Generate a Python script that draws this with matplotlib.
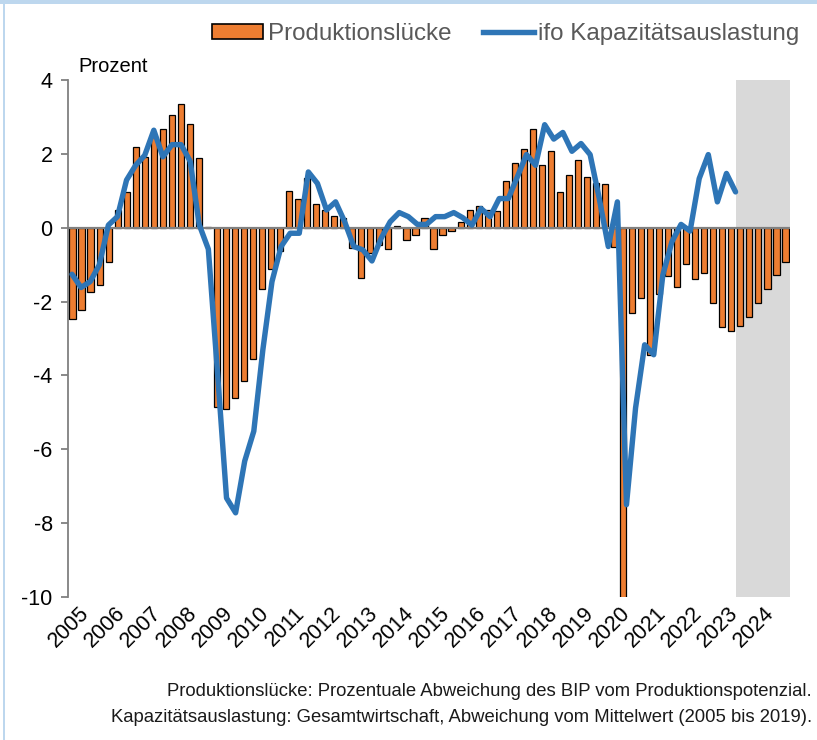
import matplotlib
matplotlib.use("Agg")
import matplotlib.pyplot as plt
from matplotlib.patches import Patch, Rectangle
from matplotlib.lines import Line2D
import numpy as np

plt.rcParams['font.family'] = ['Liberation Sans', 'DejaVu Sans']

years = [str(y) for y in range(2005, 2025)]

# Produktionslücke, quarterly 2005Q1 - 2024Q4
gap = [-2.47, -2.22, -1.73, -1.55, -0.92,
       0.49, 0.97, 2.19, 1.92, 2.45, 2.68, 3.04, 3.36, 2.82, 1.89, 0.03,
       -4.85, -4.92, -4.62, -4.15, -3.56, -1.66, -1.13, -0.62,
       0.99, 0.77, 1.35, 0.64, 0.47, 0.33, 0.26, -0.54,
       -1.36, -0.69, -0.47, -0.57, 0.05, -0.32, -0.19, 0.27,
       -0.58, -0.21, -0.10, 0.15, 0.48, 0.58, 0.48, 0.46,
       1.26, 1.74, 2.12, 2.68, 1.71, 2.08, 0.96, 1.42,
       1.84, 1.37, 1.21, 1.19, -0.51, -10.3, -2.30, -1.90,
       -3.45, -1.80, -1.30, -1.60, -0.98, -1.38, -1.22, -2.03,
       -2.68, -2.79, -2.66, -2.43, -2.04, -1.67, -1.29, -0.92]

# ifo Kapazitätsauslastung, quarterly 2005Q1 - 2023Q2
ifo = [-1.26, -1.62, -1.46, -1.01, 0.07, 0.30, 1.29, 1.69, 1.96, 2.64,
       1.92, 2.25, 2.25, 1.80, 0.08, -0.58, -3.90, -7.32, -7.72, -6.32,
       -5.51, -3.30, -1.46, -0.51, -0.15, -0.15, 1.51, 1.20, 0.48, 0.70,
       0.16, -0.51, -0.60, -0.90, -0.29, 0.16, 0.41, 0.30, 0.09, 0.09,
       0.30, 0.30, 0.41, 0.27, 0.07, 0.52, 0.30, 0.79, 0.79, 1.38,
       1.98, 1.69, 2.79, 2.40, 2.58, 2.07, 2.28, 1.98, 0.80, -0.51,
       0.70, -7.50, -4.88, -3.17, -3.44, -1.28, -0.38, 0.09, -0.09, 1.33,
       1.98, 0.70, 1.47, 0.97]

forecast_start = 74  # 2023Q3

W, H = 817, 740
fig = plt.figure(figsize=(W / 100, H / 100), dpi=100)
ax = fig.add_axes([68 / W, 1 - 597 / H, (790 - 68) / W, (597 - 80) / H])

n = len(gap)
xq = np.arange(n)
ax.axvspan(forecast_start - 0.5, n - 0.5, color='#D9D9D9', lw=0, zorder=0)
ax.bar(xq, gap, width=0.68, color='#ED7D31', edgecolor='black', linewidth=0.9, zorder=2)
ax.axhline(0, color='#808080', lw=1.6, zorder=3)

ax.set_xlim(-0.5, n - 0.5)
ax.set_ylim(-10, 4)
ax.set_yticks(np.arange(-10, 5, 2))
ax.set_yticklabels([str(v) for v in range(-10, 5, 2)], fontsize=15.5)
ax.tick_params(axis='y', direction='out', length=5, width=1.3, color='#808080', pad=6)
ax.set_xticks([4 * i + 2.27 for i in range(len(years))])
ax.set_xticklabels(years, rotation=45, ha='right', va='top', fontsize=15.5)
ax.tick_params(axis='x', length=0, pad=4)
for s in ['top', 'right', 'bottom']:
    ax.spines[s].set_visible(False)
ax.spines['left'].set_color('#808080')
ax.spines['left'].set_linewidth(1.3)

# ifo line on its own category scale (slightly different spacing)
ax2 = ax.twiny()
ax2.set_xlim(-0.44, 78.99)
ax2.plot(np.arange(len(ifo)), ifo, color='#2E75B6', lw=3.9, solid_joinstyle='round',
         solid_capstyle='round', zorder=4)
ax2.set_ylim(-10, 4)
ax2.axis('off')

fig.text(78 / W, 1 - 66 / H, 'Prozent', fontsize=14.5, va='center', ha='left')

handles = [Patch(facecolor='#ED7D31', edgecolor='black', linewidth=1.2),
           Line2D([0], [0], color='#2E75B6', lw=3.9)]
leg = fig.legend(handles, ['Produktionslücke', 'ifo Kapazitätsauslastung'],
                 loc='center', bbox_to_anchor=(506 / W, 1 - 34 / H), ncol=2,
                 frameon=False, fontsize=17.4, handlelength=2.1, handleheight=0.6,
                 handletextpad=0.2, columnspacing=1.3, borderaxespad=0)
for t in leg.get_texts():
    t.set_color('#595959')

fig.text(812 / W, 1 - 692 / H,
         'Produktionslücke: Prozentuale Abweichung des BIP vom Produktionspotenzial.',
         fontsize=13.3, ha='right', va='center', color='#1a1a1a')
fig.text(812 / W, 1 - 717 / H,
         'Kapazitätsauslastung: Gesamtwirtschaft, Abweichung vom Mittelwert (2005 bis 2019).',
         fontsize=13.3, ha='right', va='center', color='#1a1a1a')

# light blue frame
fig.patches.append(Rectangle((0, 1 - 4 / H), 1, 4 / H, transform=fig.transFigure,
                             color='#BDD7EE', lw=0))
fig.patches.append(Rectangle((3 / W, 0), 1.5 / W, 1, transform=fig.transFigure,
                             color='#BDD7EE', lw=0))

fig.savefig('out.png', dpi=100)
